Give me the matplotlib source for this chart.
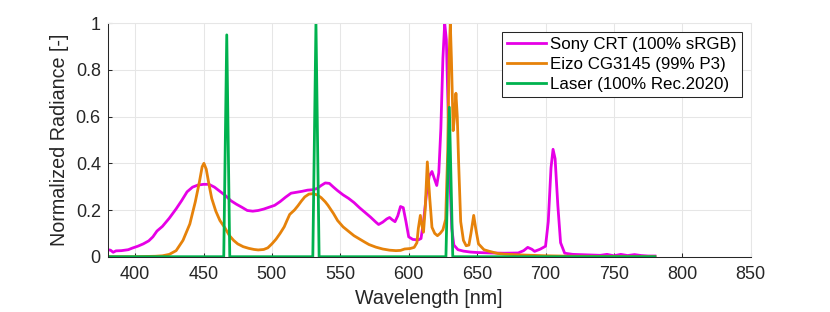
import matplotlib
matplotlib.use("Agg")
import matplotlib.pyplot as plt

# Sony CRT (100% sRGB)
crt_nm = [380, 382, 384, 386, 390, 395, 398, 402, 406, 410, 413, 416, 420, 425, 430,
          434, 438, 442, 446, 450, 454, 458, 462, 466, 470, 474, 478, 482, 486, 490,
          494, 498, 502, 506, 510, 514, 518, 522, 526, 530, 533, 536, 539, 542, 545,
          548, 552, 556, 560, 564, 568, 572, 576, 578, 581, 584, 586, 588, 590, 592,
          594, 596, 598, 600, 603, 607, 609, 611, 613, 615, 617, 619, 620.5, 622, 623.5,
          625, 626.3, 627.5, 628.5, 630, 631.5, 633, 636, 640, 645, 650, 660, 670, 680,
          684, 687, 690, 692, 696, 700, 702, 704, 705.5, 707, 709, 711, 714, 720, 730,
          740, 745, 750, 755, 760, 765, 770, 775, 780]
crt_val = [0.03, 0.028, 0.019, 0.025, 0.026, 0.03, 0.037, 0.045, 0.055, 0.068, 0.085,
           0.11, 0.13, 0.165, 0.205, 0.24, 0.278, 0.298, 0.307, 0.31, 0.31, 0.298, 0.28,
           0.262, 0.24, 0.225, 0.212, 0.198, 0.195, 0.198, 0.204, 0.212, 0.22, 0.236,
           0.255, 0.272, 0.276, 0.28, 0.285, 0.287, 0.292, 0.305, 0.316, 0.314, 0.298,
           0.283, 0.265, 0.25, 0.232, 0.21, 0.19, 0.17, 0.148, 0.138, 0.148, 0.162,
           0.168, 0.158, 0.15, 0.175, 0.215, 0.21, 0.15, 0.085, 0.074, 0.072, 0.078,
           0.16, 0.27, 0.345, 0.365, 0.33, 0.305, 0.36, 0.55, 0.85, 1.0, 0.93, 0.7,
           0.35, 0.12, 0.05, 0.03, 0.024, 0.02, 0.018, 0.016, 0.015, 0.016, 0.026,
           0.04, 0.032, 0.023, 0.032, 0.045, 0.15, 0.38, 0.46, 0.42, 0.22, 0.06, 0.015,
           0.01, 0.008, 0.006, 0.01, 0.004, 0.01, 0.005, 0.009, 0.005, 0.003, 0.003]

# Eizo CG3145 (99% P3)
eizo_nm = [380, 400, 415, 420, 425, 430, 435, 440, 444, 447, 449, 450.3, 452, 454, 456,
           459, 462, 465.5, 469, 472, 475, 479, 483, 487, 490, 494, 497, 500, 503, 506,
           509, 511, 513, 516.5, 519, 521.5, 524, 527, 530, 533, 536, 539, 541, 545, 548,
           552, 556.6, 560, 564, 568, 571, 576, 581, 586, 590.7, 594, 597, 601, 604, 606,
           607, 608.5, 609.8, 610.8, 612, 613.6, 615.3, 617, 619, 621, 623, 625, 627,
           628.5, 629.5, 630.4, 631.2, 632.5, 633.5, 634.5, 635.5, 636.5, 638, 640, 642,
           644, 645.5, 647.5, 649, 651, 655, 659, 665, 670, 680, 690, 700, 720, 750, 780]
eizo_val = [0.0, 0.0, 0.002, 0.004, 0.01, 0.026, 0.07, 0.14, 0.235, 0.32, 0.385, 0.4,
            0.375, 0.31, 0.25, 0.195, 0.155, 0.125, 0.09, 0.07, 0.055, 0.043, 0.036,
            0.031, 0.029, 0.031, 0.038, 0.055, 0.075, 0.1, 0.128, 0.155, 0.181, 0.2,
            0.218, 0.238, 0.256, 0.268, 0.27, 0.265, 0.253, 0.235, 0.22, 0.185, 0.155,
            0.128, 0.106, 0.09, 0.076, 0.062, 0.052, 0.041, 0.033, 0.028, 0.026, 0.027,
            0.033, 0.035, 0.04, 0.06, 0.12, 0.177, 0.13, 0.105, 0.2, 0.406, 0.256, 0.126,
            0.1, 0.09, 0.1, 0.115, 0.16, 0.45, 0.85, 1.0, 0.85, 0.54, 0.6, 0.7, 0.6, 0.4,
            0.15, 0.07, 0.047, 0.05, 0.1, 0.177, 0.12, 0.055, 0.03, 0.023, 0.014, 0.011,
            0.008, 0.006, 0.004, 0.002, 0.001, 0.0]

# Laser (100% Rec.2020)
laser_nm = [380, 464.8, 467.0, 469.2, 529.9, 532.2, 534.5, 627.2, 629.7, 632.2, 780]
laser_val = [0, 0, 0.95, 0, 0, 1.0, 0, 0, 0.64, 0, 0]

labels = ['Sony CRT (100% sRGB)', 'Eizo CG3145 (99% P3)', 'Laser (100% Rec.2020)']
colors = ['#E600E6', '#E6820A', '#00B24E']
xticks = [400, 450, 500, 550, 600, 650, 700, 750, 800, 850]
yticks = [0, 0.2, 0.4, 0.6, 0.8, 1]
ytick_labels = ['0', '0.2', '0.4', '0.6', '0.8', '1']

plt.rcParams['font.family'] = ['Liberation Sans', 'DejaVu Sans']
text_col = '#262626'

fig = plt.figure(figsize=(8.3, 3.12), dpi=100)
ax = fig.add_axes([0.1298, 0.1772, 0.7747, 0.7484])

for x, y, c, lab in zip([crt_nm, eizo_nm, laser_nm], [crt_val, eizo_val, laser_val],
                        colors, labels):
    ax.plot(x, y, color=c, lw=2.0, label=lab)

ax.set_xlim(380, 850)
ax.set_ylim(0, 1)
ax.set_xticks(xticks)
ax.set_yticks(yticks)
ax.set_yticklabels(ytick_labels)
ax.grid(True, color='#e6e6e6', lw=0.75)
ax.set_axisbelow(True)
for s in ['top', 'right']:
    ax.spines[s].set_color('#e6e6e6')
    ax.spines[s].set_linewidth(0.75)
for s in ['left', 'bottom']:
    ax.spines[s].set_color(text_col)
    ax.spines[s].set_linewidth(0.75)
ax.tick_params(direction='in', length=3, width=0.75, color=text_col,
               labelcolor=text_col, labelsize=13, top=False, right=False)
ax.tick_params(axis='x', pad=7)
ax.tick_params(axis='y', pad=5)

ax.set_xlabel('Wavelength [nm]', fontsize=14.2, color=text_col, labelpad=4)
ax.set_ylabel('Normalized Radiance [-]', fontsize=14.2, color=text_col, labelpad=5)

leg = ax.legend(loc='upper right', bbox_to_anchor=(0.986, 0.964), borderaxespad=0,
                fontsize=12.2, fancybox=False, framealpha=1, edgecolor=text_col,
                handlelength=2.3, handletextpad=0.25, borderpad=0.3, labelspacing=0.3)
leg.get_frame().set_linewidth(0.75)
for t in leg.get_texts():
    t.set_color('black')

fig.savefig('out.png', dpi=100)
